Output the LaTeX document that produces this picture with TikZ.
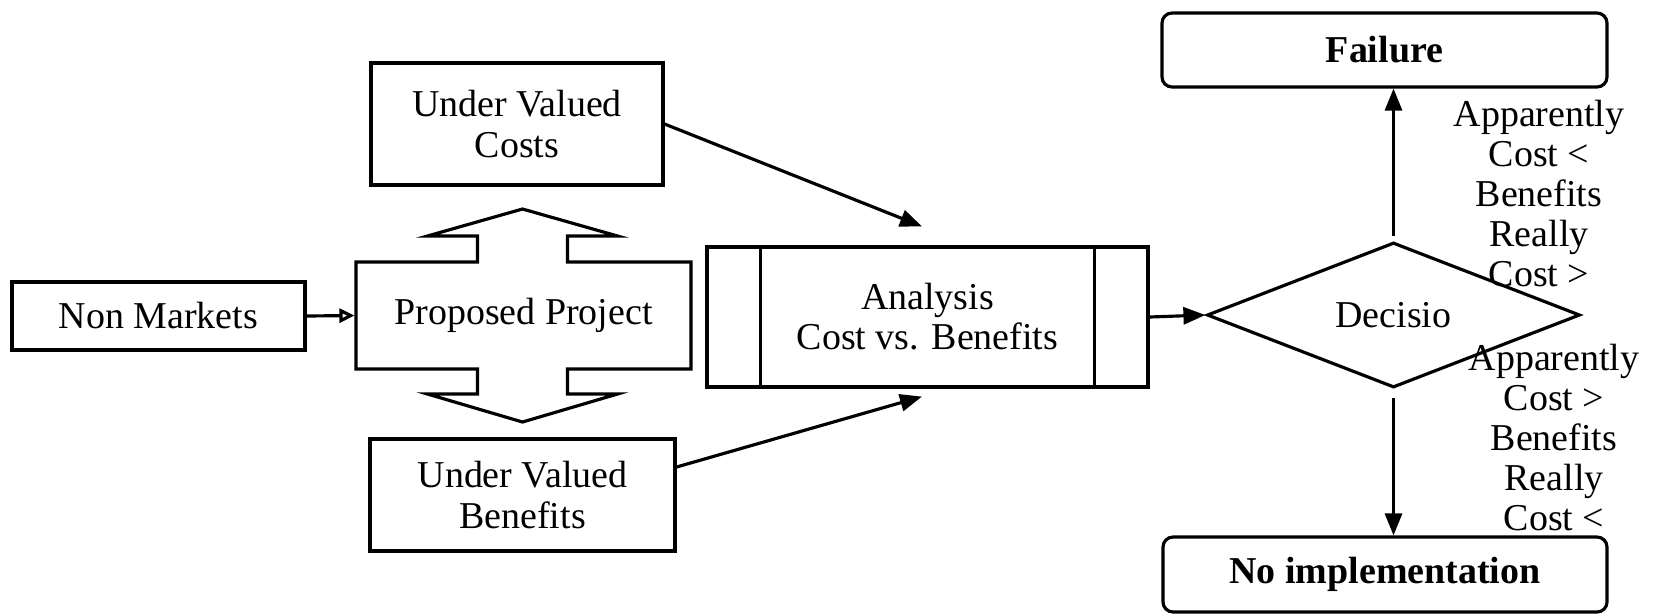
\documentclass[tikz,border=0pt]{standalone}
\usepackage{fontspec}
\setmainfont{Liberation Serif}
\usetikzlibrary{arrows.meta,shapes.geometric}
\begin{document}
\begin{tikzpicture}[line width=0.9pt,
  font=\fontsize{10.8}{11.4}\selectfont,
  box/.style={draw, align=center, inner sep=0pt},
  arr/.style={-{Triangle[length=0.22cm,width=0.17cm]}},
  cond/.style={align=center, inner sep=0pt}]
\useasboundingbox (0,0) rectangle (16.54,-6.14);
\node[box, minimum width=2.93cm, minimum height=0.68cm] (nonmarkets) at (1.585,-3.16) {Non Markets};
\node[align=center, minimum width=3.35cm, minimum height=1.07cm, inner sep=0pt] (project) at (5.235,-3.155) {Proposed Project};
\draw (3.56,-2.62) -- (4.775,-2.62) -- (4.775,-2.36) -- (4.275,-2.36) -- (5.225,-2.09) -- (6.175,-2.36) -- (5.675,-2.36) -- (5.675,-2.62) -- (6.91,-2.62)
  -- (6.91,-3.69) -- (5.675,-3.69) -- (5.675,-3.94) -- (6.175,-3.94) -- (5.225,-4.22) -- (4.275,-3.94) -- (4.775,-3.94) -- (4.775,-3.69) -- (3.56,-3.69) -- cycle;
\draw[-{Triangle[open,length=0.15cm,width=0.14cm]}] (nonmarkets.east) -- (project.west);
\node[box, minimum width=2.92cm, minimum height=1.22cm] (uvc) at (5.17,-1.24) {Under Valued\\Costs};
\node[box, minimum width=3.05cm, minimum height=1.12cm] (uvb) at (5.225,-4.95) {Under Valued\\Benefits};
\node[box, minimum width=4.41cm, minimum height=1.40cm] (analysis) at (9.275,-3.17) {Analysis\\Cost vs. Benefits};
\draw ([xshift=0.55cm]analysis.north west) -- ([xshift=0.55cm]analysis.south west);
\draw ([xshift=-0.55cm]analysis.north east) -- ([xshift=-0.55cm]analysis.south east);
\draw[arr] (uvc.east) -- ([xshift=-0.055cm,yshift=0.19cm]analysis.north);
\draw[arr] ([yshift=0.28cm]uvb.east) -- ([xshift=-0.055cm,yshift=-0.08cm]analysis.south);
\node[diamond, draw, minimum width=3.73cm, minimum height=1.45cm, inner sep=0pt] (decision) at (13.935,-3.15) {Decisio};
\draw[arr] (analysis.east) -- (decision.west);
\node[box, rounded corners=0.1cm, minimum width=4.45cm, minimum height=0.74cm, font=\fontsize{10.8}{11.4}\selectfont\bfseries] (failure) at (13.845,-0.50) {Failure};
\node[box, rounded corners=0.1cm, minimum width=4.44cm, minimum height=0.75cm, font=\fontsize{10.8}{11.4}\selectfont\bfseries] (noimpl) at (13.85,-5.745) {No implementation};
\draw[arr, shorten <=0.05cm] (decision.north) -- (decision.north |- failure.south) node[pos=0.31, xshift=1.455cm, cond] {Apparently\\Cost <\\Benefits\\Really\\Cost >};
\draw[arr, shorten <=0.09cm] (decision.south) -- (decision.south |- noimpl.north) node[pos=0.33, xshift=1.605cm, cond] {Apparently\\Cost >\\Benefits\\Really\\Cost <};
\end{tikzpicture}
\end{document}
